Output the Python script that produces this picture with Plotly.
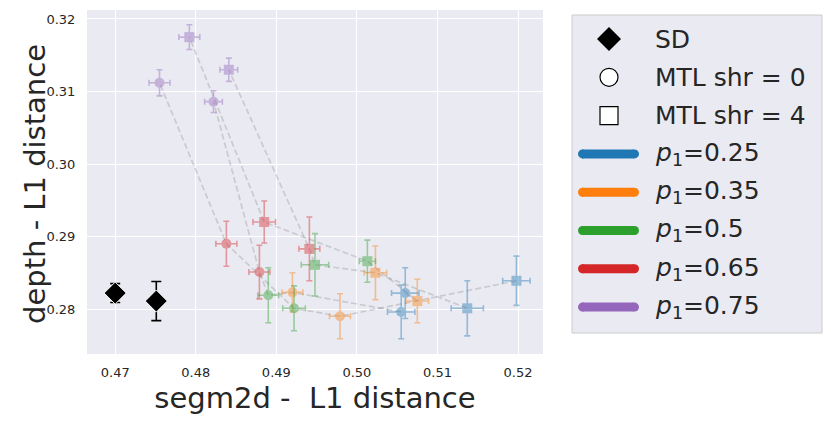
import plotly.graph_objects as go

# p1 settings, colours (tab10) and legend labels
P1_VALUES = ["0.25", "0.35", "0.5", "0.65", "0.75"]
P1_COLORS = ["#1f77b4", "#ff7f0e", "#2ca02c", "#d62728", "#9467bd"]

# MTL points, one list per p1 value (4 runs each)
MTL_X = {
    "0.25": [0.5060, 0.5055, 0.5137, 0.5198],
    "0.35": [0.4920, 0.4979, 0.5023, 0.5075],
    "0.5": [0.4890, 0.4922, 0.4948, 0.5013],
    "0.65": [0.4838, 0.4879, 0.4885, 0.4941],
    "0.75": [0.4755, 0.4822, 0.4792, 0.4841],
}
MTL_Y = {
    "0.25": [0.2822, 0.2796, 0.2801, 0.2839],
    "0.35": [0.2823, 0.2790, 0.2850, 0.2811],
    "0.5": [0.2819, 0.2801, 0.2861, 0.2866],
    "0.65": [0.2890, 0.2851, 0.2920, 0.2883],
    "0.75": [0.3112, 0.3086, 0.3175, 0.3130],
}
MTL_XERR = {
    "0.25": [0.0017, 0.0017, 0.0020, 0.0017],
    "0.35": [0.0013, 0.0013, 0.0014, 0.0014],
    "0.5": [0.0013, 0.0014, 0.0017, 0.0010],
    "0.65": [0.0013, 0.0013, 0.0014, 0.0013],
    "0.75": [0.0013, 0.0011, 0.0013, 0.0011],
}
MTL_YERR = {
    "0.25": [0.0035, 0.0037, 0.0038, 0.0034],
    "0.35": [0.0027, 0.0031, 0.0037, 0.0030],
    "0.5": [0.0038, 0.0031, 0.0043, 0.0029],
    "0.65": [0.0031, 0.0037, 0.0029, 0.0044],
    "0.75": [0.0018, 0.0015, 0.0017, 0.0016],
}
MTL_SHR = {
    "0.25": [0, 0, 4, 4],
    "0.35": [0, 0, 4, 4],
    "0.5": [0, 0, 4, 4],
    "0.65": [0, 0, 4, 4],
    "0.75": [0, 0, 4, 4],
}

# dashed connections: index of the run for each p1 (0.25 -> 0.75)
CHAINS = [
    [3, 1, 1, 0, 0],
    [0, 3, 3, 2, 2],
    [1, 0, 0, 1, 1],
    [2, 2, 2, 3, 3],
]

# single-task (SD) baselines
SD_X = [0.4700, 0.4751]
SD_Y = [0.2822, 0.2811]
SD_YERR = [0.0013, 0.0027]

X_TITLE = "segm2d -  L1 distance"
Y_TITLE = "depth - L1 distance"

TEXT = "#262626"
BG = "#eaeaf2"
FONT = "DejaVu Sans"

fig = go.Figure()

for chain in CHAINS:
    fig.add_trace(go.Scatter(
        x=[MTL_X[p][i] for p, i in zip(P1_VALUES, chain)],
        y=[MTL_Y[p][i] for p, i in zip(P1_VALUES, chain)],
        mode="lines",
        line=dict(color="rgba(128,128,128,0.3)", width=1.7, dash="6px,3px"),
        showlegend=False,
        hoverinfo="skip",
    ))

for p, color in zip(P1_VALUES, P1_COLORS):
    fig.add_trace(go.Scatter(
        x=MTL_X[p],
        y=MTL_Y[p],
        mode="markers",
        opacity=0.42,
        marker=dict(
            color=color,
            size=10,
            symbol=["circle" if s == 0 else "square" for s in MTL_SHR[p]],
        ),
        error_x=dict(type="data", array=MTL_XERR[p], color=color, thickness=1.6, width=3),
        error_y=dict(type="data", array=MTL_YERR[p], color=color, thickness=1.6, width=3),
        showlegend=False,
    ))

fig.add_trace(go.Scatter(
    x=SD_X,
    y=SD_Y,
    mode="markers",
    marker=dict(color="black", size=17, symbol="diamond", line=dict(color="white", width=1)),
    error_y=dict(type="data", array=SD_YERR, color="black", thickness=1.6, width=5),
    showlegend=False,
))

# the page body adds an 8px margin, so the figure is drawn 8px in from the corner
OFF = 8
FIG_W, FIG_H = 831 - 2 * OFF, 424 - 2 * OFF
L, T, W, H = 87, 10, 456, 344  # plot area in page pixels


def px(x):
    return (x - L) / W


def py(y):
    return (T + H - y) / H


# hand-made legend box to the right of the axes
shapes = [dict(
    type="rect", xref="paper", yref="paper",
    x0=px(572), x1=px(822), y0=py(333), y1=py(15),
    fillcolor=BG, line=dict(color="#cccccc", width=1), layer="below",
)]
annotations = [dict(
    x=px(35), y=py(184), xref="paper", yref="paper",
    text=Y_TITLE, textangle=-90, showarrow=False,
    xanchor="center", yanchor="middle",
    font=dict(family=FONT, size=29, color=TEXT),
)]

entries = [("SD", "diamond"), ("MTL shr = 0", "circle"), ("MTL shr = 4", "square")]
entries += [(f"<i>p</i><sub>1</sub>={p}", c) for p, c in zip(P1_VALUES, P1_COLORS)]

for k, (label, kind) in enumerate(entries):
    yc = 39 + k * 38.3
    cx = 609
    if kind == "diamond":
        shapes.append(dict(
            type="path", xref="paper", yref="paper",
            path=f"M {px(cx)} {py(yc - 12)} L {px(cx + 12)} {py(yc)} "
                 f"L {px(cx)} {py(yc + 12)} L {px(cx - 12)} {py(yc)} Z",
            fillcolor="black", line=dict(color="black", width=0),
        ))
    elif kind == "circle":
        shapes.append(dict(
            type="circle", xref="paper", yref="paper",
            x0=px(cx - 9), x1=px(cx + 9), y0=py(yc + 9), y1=py(yc - 9),
            fillcolor="white", line=dict(color="black", width=1.2),
        ))
    elif kind == "square":
        shapes.append(dict(
            type="rect", xref="paper", yref="paper",
            x0=px(cx - 9), x1=px(cx + 9), y0=py(yc + 9), y1=py(yc - 9),
            fillcolor="white", line=dict(color="black", width=1.2),
        ))
    else:
        shapes.append(dict(
            type="line", xref="paper", yref="paper",
            x0=px(582), x1=px(634), y0=py(yc), y1=py(yc),
            line=dict(color=kind, width=9),
        ))
        shapes.append(dict(
            type="circle", xref="paper", yref="paper",
            x0=px(578), x1=px(587), y0=py(yc + 4.5), y1=py(yc - 4.5),
            fillcolor=kind, line=dict(width=0),
        ))
        shapes.append(dict(
            type="circle", xref="paper", yref="paper",
            x0=px(630), x1=px(639), y0=py(yc + 4.5), y1=py(yc - 4.5),
            fillcolor=kind, line=dict(width=0),
        ))
    annotations.append(dict(
        x=px(653), y=py(yc), xref="paper", yref="paper",
        text=label, showarrow=False, xanchor="left", yanchor="middle",
        font=dict(family=FONT, size=25, color=TEXT),
    ))

fig.update_layout(
    width=FIG_W,
    height=FIG_H,
    margin=dict(l=L - OFF, r=FIG_W - (L - OFF) - W, t=T - OFF, b=FIG_H - (T - OFF) - H),
    paper_bgcolor="white",
    plot_bgcolor=BG,
    font=dict(family=FONT, color=TEXT),
    shapes=shapes,
    annotations=annotations,
    showlegend=False,
)
fig.update_xaxes(
    range=[0.4665, 0.5231],
    tickvals=[0.47, 0.48, 0.49, 0.50, 0.51, 0.52],
    ticktext=["0.47", "0.48", "0.49", "0.50", "0.51", "0.52"],
    tickfont=dict(size=13, color=TEXT),
    ticks="outside", ticklen=6, tickcolor="rgba(0,0,0,0)",
    gridcolor="white", gridwidth=1.2, zeroline=False, showline=False,
    automargin=False,
    title=dict(text=X_TITLE, font=dict(size=29, color=TEXT), standoff=9),
)
fig.update_yaxes(
    range=[0.2738, 0.32124],
    tickvals=[0.28, 0.29, 0.30, 0.31, 0.32],
    ticktext=["0.28", "0.29", "0.30", "0.31", "0.32"],
    tickfont=dict(size=13, color=TEXT),
    ticks="outside", ticklen=8, tickcolor="rgba(0,0,0,0)",
    gridcolor="white", gridwidth=1.2, zeroline=False, showline=False,
    automargin=False,
)

fig.write_html("out.html")
